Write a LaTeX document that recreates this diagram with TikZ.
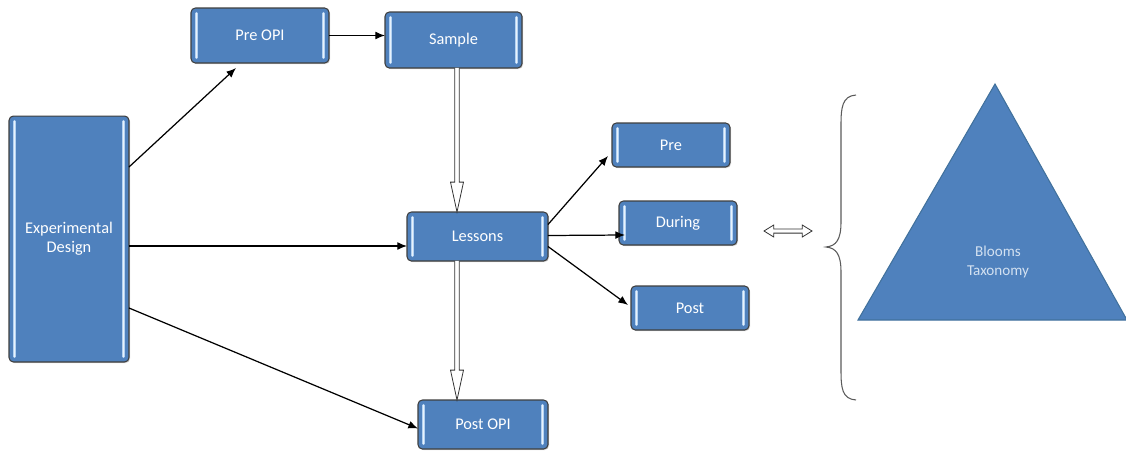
\documentclass[tikz,border=0pt]{standalone}
\usepackage{fontspec}
\setmainfont{Carlito}
\usetikzlibrary{arrows.meta,calc,shadows}
\definecolor{boxblue}{HTML}{4F81BD}
\definecolor{boxedge}{HTML}{3F3F3F}
\definecolor{barblue}{HTML}{B4D2F2}
\definecolor{triedge}{HTML}{41719C}
\definecolor{tritext}{HTML}{D3E1F1}
\definecolor{bracegray}{HTML}{5A5A5A}

\tikzset{
  sidebar/.style={barblue, line width=1.6pt, line cap=round,
    postaction={draw=white!70!barblue, line width=0.5pt}},
  box/.style={draw=boxedge, line width=0.6pt, fill=boxblue, rounded corners=2.5pt,
    inner sep=0pt, outer sep=0pt, text=white, align=center,
    font=\fontsize{9.3}{11}\selectfont,
    drop shadow={opacity=0.35, shadow xshift=0.6pt, shadow yshift=-0.6pt},
    path picture={
      \draw[sidebar]
        ([xshift=3pt,yshift=-3pt]path picture bounding box.north west) --
        ([xshift=3pt,yshift=3pt]path picture bounding box.south west);
      \draw[sidebar]
        ([xshift=-3pt,yshift=-3pt]path picture bounding box.north east) --
        ([xshift=-3pt,yshift=3pt]path picture bounding box.south east);
    }},
  link/.style={draw=black, line width=0.7pt, -{Latex[length=5.5pt,width=4.5pt]}},
  hollow/.style={draw=black!80, line width=0.45pt, fill=white, line join=miter},
}

% vertical hollow arrow from #1 down to #2
\newcommand\hollowdown[2]{%
  \path let \p1=(#1), \p2=(#2) in
    [hollow] (\x1-1.3pt,\y1) -- (\x1-1.3pt,\y2+17pt) -- (\x1-3.7pt,\y2+17pt)
    -- (\x1,\y2) -- (\x1+3.7pt,\y2+17pt) -- (\x1+1.3pt,\y2+17pt)
    -- (\x1+1.3pt,\y1);}
% horizontal two-headed hollow arrow between #1 and #2
\newcommand\hollowboth[2]{%
  \path let \p1=(#1), \p2=(#2) in
    [hollow] (\x1,\y1) -- (\x1+5.5pt,\y1+3.4pt) -- (\x1+5.5pt,\y1+1.2pt)
    -- (\x2-5.5pt,\y1+1.2pt) -- (\x2-5.5pt,\y1+3.4pt) -- (\x2,\y1)
    -- (\x2-5.5pt,\y1-3.4pt) -- (\x2-5.5pt,\y1-1.2pt) -- (\x1+5.5pt,\y1-1.2pt)
    -- (\x1+5.5pt,\y1-3.4pt) -- cycle;}

\begin{document}
\begin{tikzpicture}[x=0.02cm, y=-0.02cm]
\useasboundingbox (0,0) rectangle (1126,450);

% process boxes
\node[box, minimum width=2.4cm,  minimum height=4.92cm] (ed)      at (69,239)    {Experimental\\Design};
\node[box, minimum width=2.76cm, minimum height=1.1cm]  (preopi)  at (260,35.5)  {Pre OPI};
\node[box, minimum width=2.74cm, minimum height=1.12cm] (sample)  at (453.5,40)  {Sample};
\node[box, minimum width=2.82cm, minimum height=0.98cm] (lessons) at (477.5,236.5){Lessons};
\node[box, minimum width=2.36cm, minimum height=0.88cm] (pre)     at (671,145)   {Pre};
\node[box, minimum width=2.36cm, minimum height=0.88cm] (during)  at (678,223)   {During};
\node[box, minimum width=2.36cm, minimum height=0.88cm] (post)    at (690,308)   {Post};
\node[box, minimum width=2.6cm,  minimum height=0.98cm] (postopi) at (483,424.5) {Post OPI};

% connectors
\draw[link] ($(ed.east)+(0,-72)$) -- ($(preopi.south)+(-24,5)$);
\draw[link] (preopi.east) -- (preopi.east -| sample.west);
\draw[link] ($(ed.east)+(0,7)$) coordinate (edm) -- (edm -| lessons.west);
\draw[link] ($(ed.east)+(0,69)$) -- ($(postopi.west)+(0,4)$);
\draw[link] ($(lessons.east)+(0,-12)$) -- ($(pre.west)+(-4,11)$);
\draw[link] ($(lessons.east)+(0,-1)$) -- ($(during.west)+(6,12)$);
\draw[link] ($(lessons.east)+(0,10)$) -- ($(post.west)+(-3,-3)$);

% hollow flow arrows
\coordinate (s1) at ($(sample.south)+(3.5,0)$);
\coordinate (s2) at (s1 |- lessons.north);
\hollowdown{s1}{s2}
\coordinate (l1) at ($(lessons.south)+(-20.5,0)$);
\coordinate (l2) at (l1 |- postopi.north);
\hollowdown{l1}{l2}

% two-headed link to the taxonomy
\coordinate (dl) at (764,231);
\coordinate (dr) at (812,231);
\hollowboth{dl}{dr}

% brace
\draw[bracegray, line width=0.6pt]
  (856,95) .. controls (842,96) and (841,108) .. (841,125)
  -- (841,222) .. controls (841,240) and (836,246) .. (826,247)
  .. controls (836,248) and (841,254) .. (841,272)
  -- (841,370) .. controls (841,388) and (842,399) .. (856,400);

% Bloom's taxonomy triangle
\filldraw[fill=boxblue, draw=triedge, line width=0.6pt]
  (995,84) -- (1127,320) -- (858,320) -- cycle;
\node[text=tritext, align=center, font=\fontsize{8.6}{10.5}\selectfont] (bt) at (998,262) {Blooms\\Taxonomy};
\end{tikzpicture}
\end{document}
